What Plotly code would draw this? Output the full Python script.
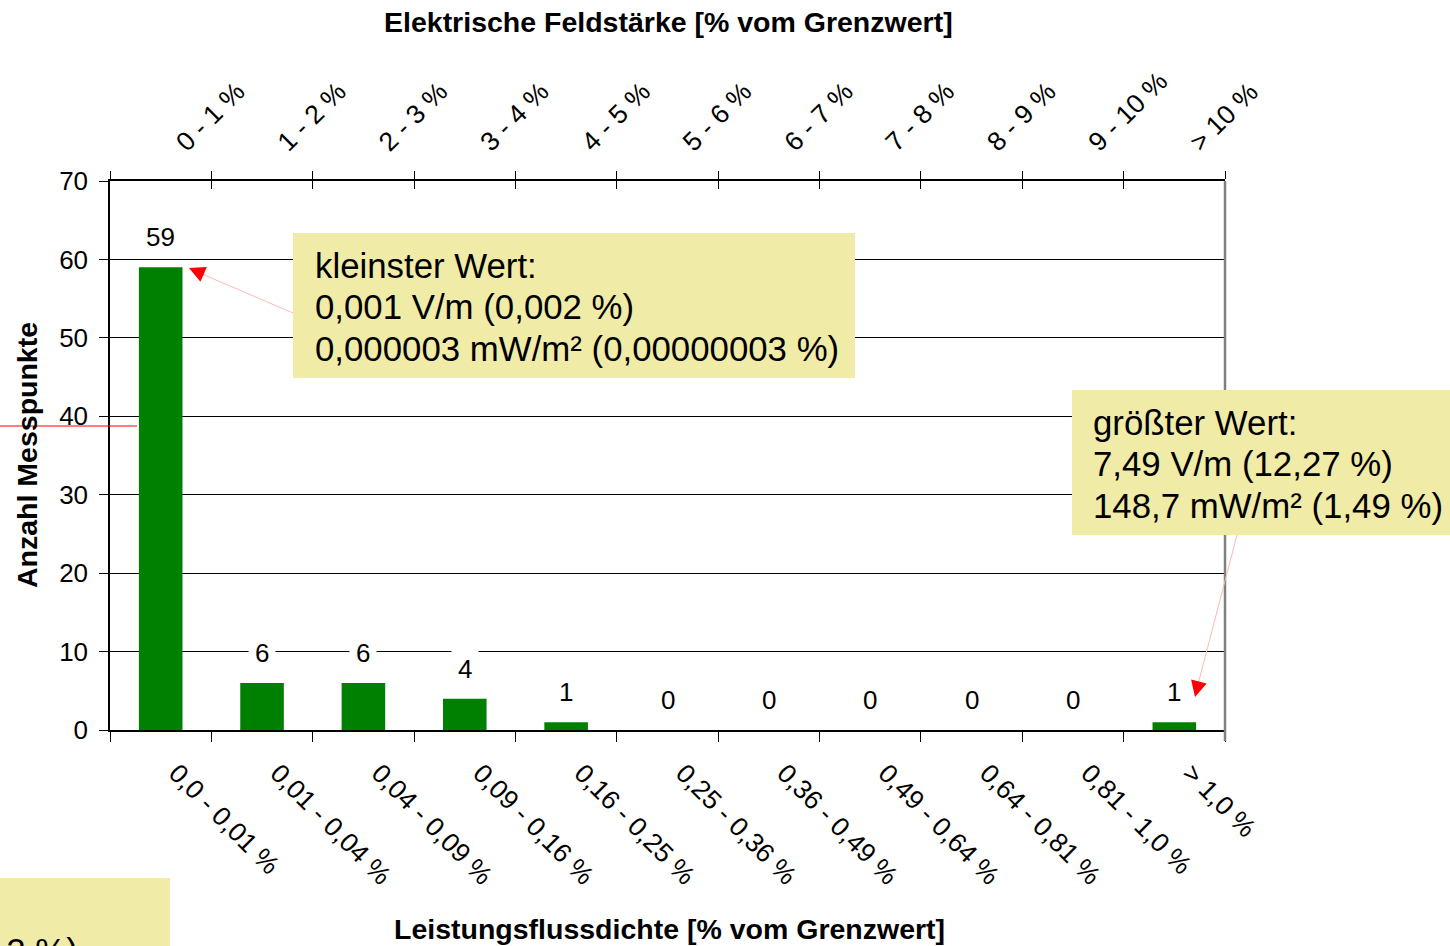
import plotly.graph_objects as go

# ---------------- data ----------------
bottom_labels = ["0,0 - 0,01 %", "0,01 - 0,04 %", "0,04 - 0,09 %", "0,09 - 0,16 %",
                 "0,16 - 0,25 %", "0,25 - 0,36 %", "0,36 - 0,49 %", "0,49 - 0,64 %",
                 "0,64 - 0,81 %", "0,81 - 1,0 %", "> 1,0 %"]
top_labels = ["0 - 1 %", "1 - 2 %", "2 - 3 %", "3 - 4 %", "4 - 5 %", "5 - 6 %",
              "6 - 7 %", "7 - 8 %", "8 - 9 %", "9 - 10 %", "> 10 %"]
counts = [59, 6, 6, 4, 1, 0, 0, 0, 0, 0, 1]

title_top = "Elektrische Feldstärke [% vom Grenzwert]"
title_bottom = "Leistungsflussdichte [% vom Grenzwert]"
title_y = "Anzahl Messpunkte"
box_min_lines = ["kleinster Wert:", "0,001 V/m (0,002 %)", "0,000003 mW/m² (0,00000003 %)"]
box_max_lines = ["größter Wert:", "7,49 V/m (12,27 %)", "148,7 mW/m² (1,49 %)"]
box_cut_text = "12 %)"

# ---------------- layout helpers ----------------
W, H = 1450, 946
L, R, T, B = 110, 225, 181, 216
PW, PH = W - L - R, H - T - B
FONT = "Liberation Sans, Arial, sans-serif"
BOX = "#F0ECA8"
GREEN = "#008000"


def px(x):
    return (x - L) / PW


def py(y):
    return (H - B - y) / PH


fig = go.Figure()
fig.add_trace(go.Bar(x=bottom_labels, y=counts, marker_color=GREEN,
                     marker_line_width=0, width=0.43, showlegend=False,
                     hoverinfo="x+y"))
# invisible traces to populate top category axes
fig.add_trace(go.Scatter(x=top_labels, y=counts, xaxis="x2", mode="none",
                         showlegend=False, hoverinfo="skip"))
fig.add_trace(go.Scatter(x=top_labels, y=counts, xaxis="x3", mode="none",
                         showlegend=False, hoverinfo="skip"))

axis_common = dict(type="category", range=[-0.5, len(counts) - 0.5],
                   tickson="boundaries", tickcolor="black", tickwidth=1.2,
                   showgrid=False, zeroline=False,
                   tickfont=dict(family=FONT, size=26.5, color="black"))

fig.update_layout(
    width=W, height=H, autosize=False,
    margin=dict(l=L, r=R, t=T, b=B, pad=0),
    paper_bgcolor="white", plot_bgcolor="white",
    font=dict(family=FONT, color="black"),
    xaxis=dict(**axis_common, side="bottom", ticks="outside", ticklen=10,
               tickangle=45, showline=True, linecolor="black", linewidth=2,
               ticklabelshift=16, ticklabelstandoff=15),
    xaxis2=dict(**axis_common, side="top", overlaying="x", ticks="outside",
                ticklen=8, tickangle=-45, showline=True, linecolor="black",
                linewidth=1.5, ticklabelshift=17, ticklabelstandoff=12),
    xaxis3=dict(**axis_common, side="top", overlaying="x", ticks="inside",
                ticklen=8, showticklabels=False, showline=False),
    yaxis=dict(range=[0, 70], dtick=10, tick0=0, ticks="outside", ticklen=9,
               tickcolor="black", tickwidth=1.2, showline=True,
               linecolor="black", linewidth=1.5, showgrid=True,
               gridcolor="black", gridwidth=1, zeroline=False,
               ticklabelstandoff=6,
               tickfont=dict(family=FONT, size=26, color="black")),
    bargap=0.57,
)

shapes = []
annotations = []

# data labels with white background (interrupt gridlines)
for cat, v in zip(bottom_labels, counts):
    annotations.append(dict(x=cat, y=v, xref="x", yref="y", text=str(v),
                            showarrow=False, yshift=30, bgcolor="white",
                            borderpad=6, font=dict(family=FONT, size=26, color="black")))

# right border of plot area
shapes.append(dict(type="line", xref="paper", yref="paper", x0=1, x1=1,
                   y0=py(741), y1=1, line=dict(color="#808080", width=2.5)))
# stray red line on left
shapes.append(dict(type="line", xref="paper", yref="paper", x0=px(0), x1=px(137),
                   y0=py(426), y1=py(426), line=dict(color="red", width=1)))

# annotation boxes
shapes.append(dict(type="rect", xref="paper", yref="paper", x0=px(293), x1=px(855),
                   y0=py(378), y1=py(233), fillcolor=BOX, line=dict(width=0)))
shapes.append(dict(type="rect", xref="paper", yref="paper", x0=px(1072), x1=px(1460),
                   y0=py(535), y1=py(390), fillcolor=BOX, line=dict(width=0)))
shapes.append(dict(type="rect", xref="paper", yref="paper", x0=px(-10), x1=px(170),
                   y0=py(960), y1=py(878), fillcolor=BOX, line=dict(width=0)))

for i, line in enumerate(box_min_lines):
    annotations.append(dict(x=px(313), y=py(265 + 41.5 * i), xref="paper", yref="paper",
                            xanchor="left", yanchor="middle", text=line, showarrow=False,
                            font=dict(family=FONT, size=34.8, color="black")))
for i, line in enumerate(box_max_lines):
    annotations.append(dict(x=px(1091), y=py(422 + 41.5 * i), xref="paper", yref="paper",
                            xanchor="left", yanchor="middle", text=line, showarrow=False,
                            font=dict(family=FONT, size=34.8, color="black")))
annotations.append(dict(x=px(80), y=py(950), xref="paper", yref="paper",
                        xanchor="right", yanchor="middle", text=box_cut_text,
                        showarrow=False, font=dict(family=FONT, size=34.8, color="black")))

# arrows: pale connector lines + red heads
shapes.append(dict(type="line", xref="paper", yref="paper", x0=px(293), y0=py(313),
                   x1=px(195), y1=py(271), line=dict(color="#FFB8B8", width=1)))
shapes.append(dict(type="line", xref="paper", yref="paper", x0=px(1237), y0=py(535),
                   x1=px(1197), y1=py(688), line=dict(color="#FFB8B8", width=1)))
annotations.append(dict(x=px(189), y=py(268), xref="paper", yref="paper", text="",
                        showarrow=True, arrowhead=2, arrowsize=1.6, arrowwidth=2,
                        arrowcolor="red", ax=16, ay=7, axref="pixel", ayref="pixel"))
annotations.append(dict(x=px(1195), y=py(697), xref="paper", yref="paper", text="",
                        showarrow=True, arrowhead=2, arrowsize=1.6, arrowwidth=2,
                        arrowcolor="red", ax=4, ay=-16, axref="pixel", ayref="pixel"))

# axis titles
annotations.append(dict(x=px(668), y=py(22), xref="paper", yref="paper",
                        text="<b>" + title_top + "</b>", showarrow=False,
                        xanchor="center", yanchor="middle",
                        font=dict(family=FONT, size=28.5, color="black")))
annotations.append(dict(x=px(669), y=py(929), xref="paper", yref="paper",
                        text="<b>" + title_bottom + "</b>", showarrow=False,
                        xanchor="center", yanchor="middle",
                        font=dict(family=FONT, size=28.5, color="black")))
annotations.append(dict(x=px(27), y=py(455), xref="paper", yref="paper",
                        text="<b>" + title_y + "</b>", showarrow=False, textangle=-90,
                        xanchor="center", yanchor="middle",
                        font=dict(family=FONT, size=28.5, color="black")))

fig.update_layout(shapes=shapes, annotations=annotations)
fig.write_html("out.html",
               config={"displayModeBar": False},
               post_script="document.body.style.margin='0';"
                           "document.body.style.overflow='hidden';")
